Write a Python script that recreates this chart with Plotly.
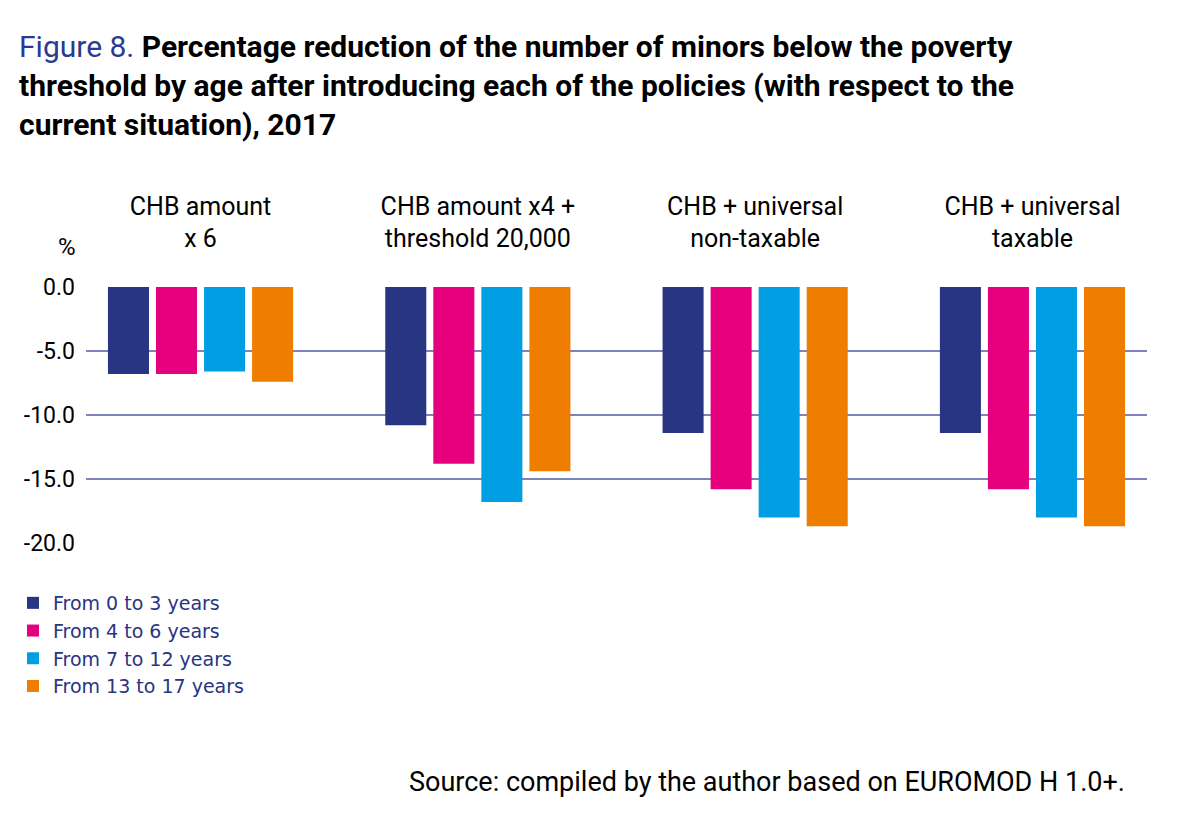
import plotly.graph_objects as go

categories = ["CHB amount<br>x 6", "CHB amount x4 +<br>threshold 20,000",
              "CHB + universal<br>non-taxable", "CHB + universal<br>taxable"]
series_names = ["From 0 to 3 years", "From 4 to 6 years",
                "From 7 to 12 years", "From 13 to 17 years"]
age_0_3 = [-6.8, -10.8, -11.4, -11.4]
age_4_6 = [-6.8, -13.8, -15.8, -15.8]
age_7_12 = [-6.6, -16.8, -18.0, -18.0]
age_13_17 = [-7.4, -14.4, -18.7, -18.7]
y_ticks = [0, -5, -10, -15, -20]
y_tick_labels = [f"{v:.1f}" for v in y_ticks]

colors = ["#283583", "#e6007e", "#009fe3", "#ef7d00"]
values = [age_0_3, age_4_6, age_7_12, age_13_17]

W, H = 1194, 823
OFF = 8  # page offset seen in the screenshot
# target on-screen plot area: x 86..1147, y 287..543
PL, PR, PT, PB = 86 - OFF, 1147 - OFF, 287 - OFF, 543 - OFF
L, R, T, B = PL, W - PR, PT, H - PB
pw, ph = PR - PL, PB - PT


def px(x):
    return (x - OFF - PL) / pw


def py(y):
    return (PB - (y - OFF)) / ph


fig = go.Figure()
for name, vals, c in zip(series_names, values, colors):
    fig.add_trace(go.Bar(x=categories, y=vals, name=name,
                         marker=dict(color=c, line=dict(width=0))))

font_main = "Roboto, Liberation Sans, Arial, sans-serif"

fig.update_layout(
    width=W, height=H,
    margin=dict(l=L, r=R, t=T, b=B, autoexpand=False),
    paper_bgcolor="white", plot_bgcolor="white",
    barmode="group", bargap=0.307, bargroupgap=0.146,
    font=dict(family=font_main, color="black"),
    title=dict(
        text="<span style='font-weight:normal;color:#2b3990'>Figure 8.</span> "
             "<b>Percentage reduction of the number of minors below the poverty<br>"
             "threshold by age after introducing each of the policies (with respect to the<br>"
             "current situation), 2017</b>",
        x=(19 - OFF) / W, xref="container", xanchor="left",
        y=1 - (57 - OFF) / H, yref="container", yanchor="top",
        font=dict(size=30, family=font_main, color="black"),
    ),
    xaxis=dict(
        side="top", type="category",
        range=[-0.413, 3.413],
        showgrid=False, zeroline=False, showline=False, ticks="",
        tickfont=dict(size=25, color="black"),
        ticklabelstandoff=34,
    ),
    yaxis=dict(
        range=[-20, 0], tickvals=y_ticks, ticktext=y_tick_labels,
        showgrid=True, gridcolor="#7c83bd", gridwidth=1.5,
        zeroline=False, showline=False, ticks="",
        tickfont=dict(size=23, color="black"),
        ticklabelstandoff=10,
    ),
    legend=dict(
        x=px(13), y=py(584), xanchor="left", yanchor="top",
        orientation="v",
        font=dict(size=19, color="#283583", family="DejaVu Sans, sans-serif"),
        bgcolor="rgba(0,0,0,0)", tracegroupgap=0, itemwidth=30,
    ),
    showlegend=True,
)

fig.add_annotation(text="%", x=px(67), y=py(247),
                   xref="paper", yref="paper", showarrow=False,
                   xanchor="center", yanchor="middle",
                   font=dict(size=24, color="black"))
fig.add_annotation(text="Source: compiled by the author based on EUROMOD H 1.0+.",
                   x=px(1127), y=py(782),
                   xref="paper", yref="paper", showarrow=False,
                   xanchor="right", yanchor="middle",
                   font=dict(size=27, color="black"))

fig.write_html("out.html")
